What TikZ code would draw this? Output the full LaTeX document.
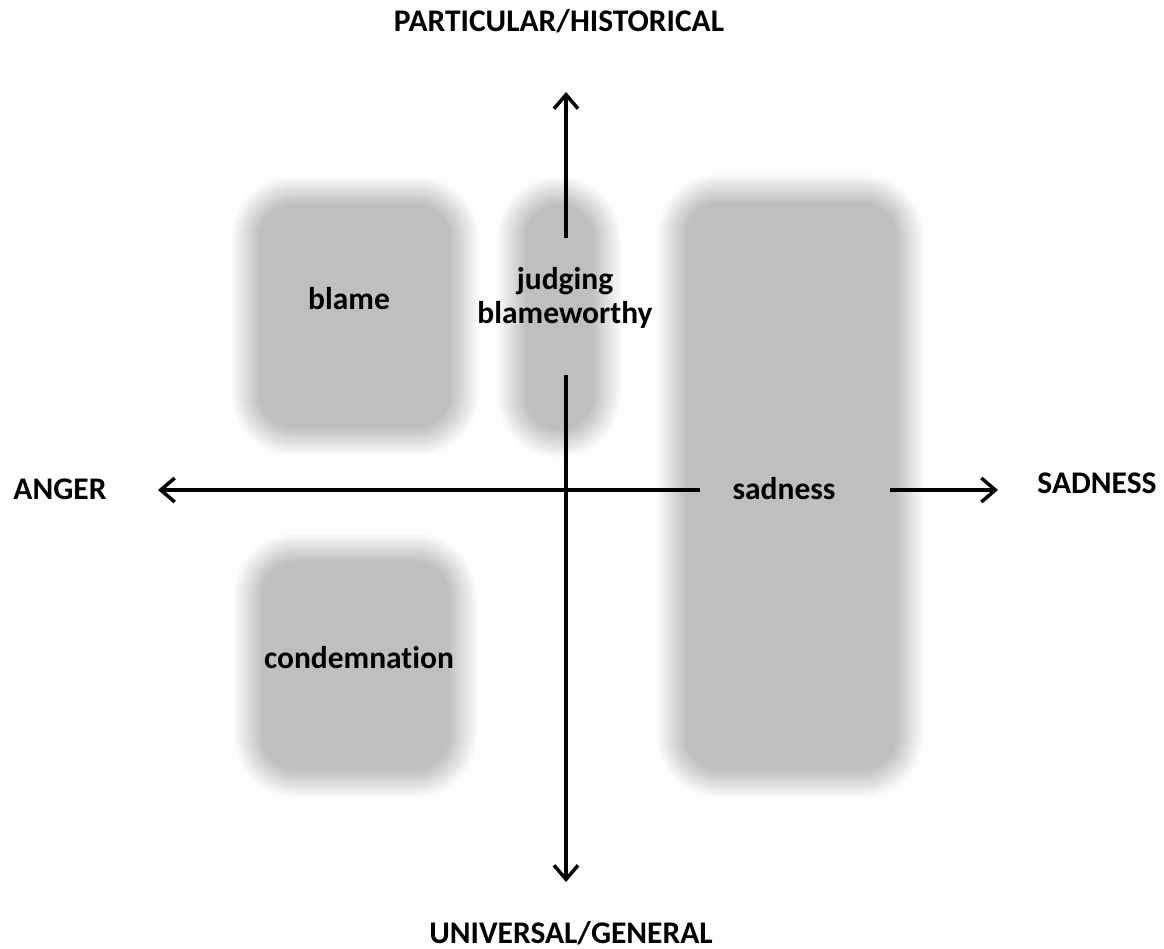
\documentclass[tikz,border=0pt]{standalone}
\usepackage{fontspec}
\setmainfont{Carlito}[Ligatures={NoCommon}]
\usetikzlibrary{arrows.meta}
\newcommand\blurbox[4]{%
  \foreach \k in {0,...,14}{%
    \pgfmathsetmacro\off{14-2*\k}%
    \pgfmathsetmacro\pc{25*(\k+1)/15}%
    \pgfmathsetmacro\rr{max(48+\off,1)}%
    \fill[black!\pc, rounded corners=\rr pt] (#1-\off,#2-\off) rectangle (#3+\off,#4+\off);
  }}
\begin{document}
\begin{tikzpicture}[x=1pt,y=-1pt,
  lbl/.style={font=\fontsize{31.5}{35}\selectfont\bfseries, align=center, inner sep=0pt, anchor=base},
  axis/.style={line width=3.5pt, -{Straight Barb[length=14pt,width=24pt]}}]
\useasboundingbox (0,0) rectangle (1164,949);
\fill[white] (0,0) rectangle (1164,949);
% blurred boxes
\blurbox{245}{190}{465}{442}
\blurbox{511}{190}{607}{444}
\blurbox{671}{188}{910}{784}
\blurbox{248}{547}{463}{784}
% labels
\node[lbl] (top) at (559,32) {PARTICULAR/HISTORICAL};
\node[lbl] (bottom) at (571,943) {UNIVERSAL/GENERAL};
\node[lbl] (anger) at (60,499) {ANGER};
\node[lbl] (sad) at (1097,493) {SADNESS};
\node[lbl] (blame) at (349,310) {blame};
\node[lbl] (judging) at (565,324) {judging\\blameworthy};
\node[lbl] (sadness) at (784,499) {sadness};
\node[lbl] (condemn) at (359,668) {condemnation};
% axis coordinates
\coordinate (vtopS) at (566,238);
\coordinate (vtopE) at (566,92);
\coordinate (vbotS) at (566,375);
\coordinate (vbotE) at (566,882);
\coordinate (hlS) at (700,490);
\coordinate (hlE) at (158,490);
\coordinate (hrS) at (890,490);
\coordinate (hrE) at (998,490);
\draw[axis] (vtopS) -- (vtopE);
\draw[axis] (vbotS) -- (vbotE);
\draw[axis] (hlS) -- (hlE);
\draw[axis] (hrS) -- (hrE);
\end{tikzpicture}
\end{document}
